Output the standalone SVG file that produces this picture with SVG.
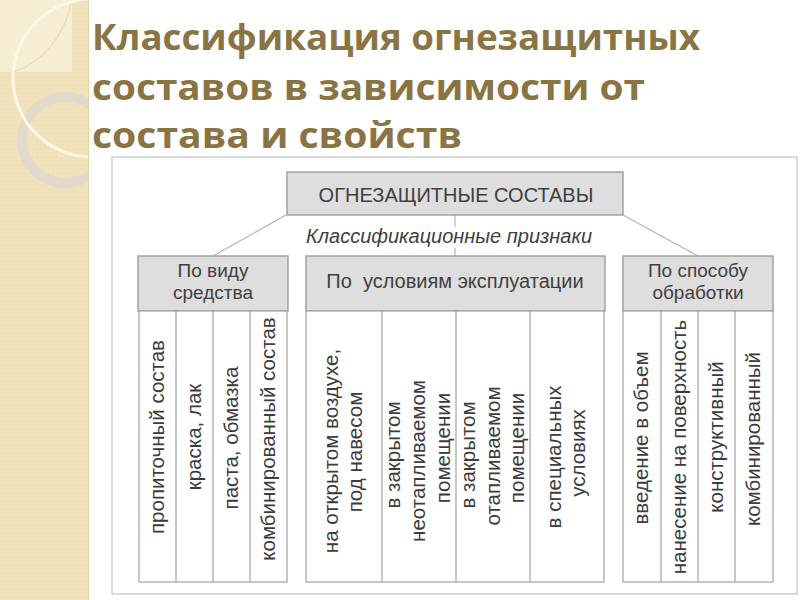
<svg xmlns="http://www.w3.org/2000/svg" width="800" height="600" viewBox="0 0 800 600">
<defs>
<pattern id="dots" width="4" height="4" patternUnits="userSpaceOnUse"><rect width="4" height="4" fill="#f2e2bb"/><circle cx="1" cy="1" r="0.7" fill="#eadaaf"/></pattern>
<clipPath id="stripClip"><rect x="0" y="0" width="88" height="600"/></clipPath>
</defs>
<style>
.title{font-family:"Open Sans","Noto Sans","DejaVu Sans",sans-serif;font-weight:bold;font-size:36px;fill:#8a7443}
.box{fill:#dedede;stroke:#a2a2a2;stroke-width:1.5}
.cell{fill:#ffffff;stroke:#a2a2a2;stroke-width:1.2}
.hd{font-family:"Liberation Sans",Arial,sans-serif;font-size:20px;fill:#404040;text-anchor:middle}
.hd2{font-family:"Liberation Sans",Arial,sans-serif;font-size:19px;fill:#404040;text-anchor:middle}
.it{font-family:"Liberation Sans",Arial,sans-serif;font-size:20px;font-style:italic;fill:#404040;text-anchor:middle}
.col{font-family:"Liberation Sans",Arial,sans-serif;font-size:20.5px;fill:#3c3c3c;text-anchor:middle}
.conn{stroke:#b4b4b4;stroke-width:1.2;fill:none}
</style>
<rect width="800" height="600" fill="#ffffff"/>
<g id="strip" clip-path="url(#stripClip)">
<rect width="88" height="600" fill="url(#dots)"/>
<path d="M0 0 H72 V72 H0 Z" fill="#f7edd4"/>
<path d="M72 0 Q60 55 14 72" fill="none" stroke="#e6d4a8" stroke-width="1"/>
<circle cx="65" cy="140" r="43" fill="none" stroke="#e0dacb" stroke-width="10"/>
<circle cx="92" cy="78" r="79" fill="none" stroke="#fcf7e6" stroke-width="3"/>
</g>
<line x1="88.5" y1="0" x2="88.5" y2="600" stroke="#e2d1a6" stroke-width="1"/>

<g id="title">
<text class="title" x="92" y="50" textLength="608" lengthAdjust="spacingAndGlyphs">Классификация огнезащитных</text>
<text class="title" x="92" y="100" textLength="553" lengthAdjust="spacingAndGlyphs">составов в зависимости от</text>
<text class="title" x="92" y="148" textLength="370" lengthAdjust="spacingAndGlyphs">состава и свойств</text>
</g>

<rect id="frame" x="112" y="157" width="685" height="437" fill="#ffffff" stroke="#c4c4c4" stroke-width="1.2"/>

<g id="connectors">
<line class="conn" x1="286" y1="215" x2="213" y2="256"/>
<line class="conn" x1="623" y1="215" x2="698" y2="256"/>
<line class="conn" x1="455" y1="215" x2="455" y2="227"/>
<line class="conn" x1="455" y1="248" x2="455" y2="256"/>
</g>

<g id="root">
<rect class="box" x="287" y="172" width="336" height="43"/>
<text class="hd" x="456" y="202">ОГНЕЗАЩИТНЫЕ СОСТАВЫ</text>
</g>
<text id="label" class="it" x="449" y="243">Классификационные признаки</text>

<g id="by-type">
<rect class="box" x="138" y="256" width="150" height="55"/>
<text class="hd2" x="213" y="277">По виду</text>
<text class="hd2" x="213" y="299">средства</text>
<rect class="cell" x="139" y="311" width="148" height="271"/>
<line class="cell" x1="176" y1="311" x2="176" y2="582"/>
<line class="cell" x1="213" y1="311" x2="213" y2="582"/>
<line class="cell" x1="250" y1="311" x2="250" y2="582"/>
<text class="col" transform="translate(164 437) rotate(-90)">пропиточный состав</text>
<text class="col" transform="translate(201 437) rotate(-90)">краска, лак</text>
<text class="col" transform="translate(238 438) rotate(-90)">паста, обмазка</text>
<text class="col" transform="translate(275 439) rotate(-90)">комбинированный состав</text>
</g>

<g id="by-conditions">
<rect class="box" x="306" y="256" width="299" height="55"/>
<text class="hd" x="455" y="288" xml:space="preserve">По  условиям эксплуатации</text>
<rect class="cell" x="306" y="311" width="298" height="271"/>
<line class="cell" x1="382" y1="311" x2="382" y2="582"/>
<line class="cell" x1="456" y1="311" x2="456" y2="582"/>
<line class="cell" x1="530" y1="311" x2="530" y2="582"/>
<text class="col" transform="translate(338 451) rotate(-90)">на открытом воздухе,</text>
<text class="col" transform="translate(362 452) rotate(-90)">под навесом</text>
<text class="col" transform="translate(400 455) rotate(-90)">в закрытом</text>
<text class="col" transform="translate(425 461) rotate(-90)">неотапливаемом</text>
<text class="col" transform="translate(450 448) rotate(-90)">помещении</text>
<text class="col" transform="translate(475 455) rotate(-90)">в закрытом</text>
<text class="col" transform="translate(500 456) rotate(-90)">отапливаемом</text>
<text class="col" transform="translate(524 448) rotate(-90)">помещении</text>
<text class="col" transform="translate(561 457) rotate(-90)">в специальных</text>
<text class="col" transform="translate(585 453) rotate(-90)">условиях</text>
</g>

<g id="by-method">
<rect class="box" x="623" y="256" width="150" height="55"/>
<text class="hd2" x="698" y="277">По способу</text>
<text class="hd2" x="698" y="299">обработки</text>
<rect class="cell" x="623" y="311" width="150" height="271"/>
<line class="cell" x1="661" y1="311" x2="661" y2="582"/>
<line class="cell" x1="698" y1="311" x2="698" y2="582"/>
<line class="cell" x1="735" y1="311" x2="735" y2="582"/>
<text class="col" transform="translate(648 438) rotate(-90)">введение в объем</text>
<text class="col" transform="translate(686 447) rotate(-90)">нанесение на поверхность</text>
<text class="col" transform="translate(723 437) rotate(-90)">конструктивный</text>
<text class="col" transform="translate(760 439) rotate(-90)">комбинированный</text>
</g>
</svg>
